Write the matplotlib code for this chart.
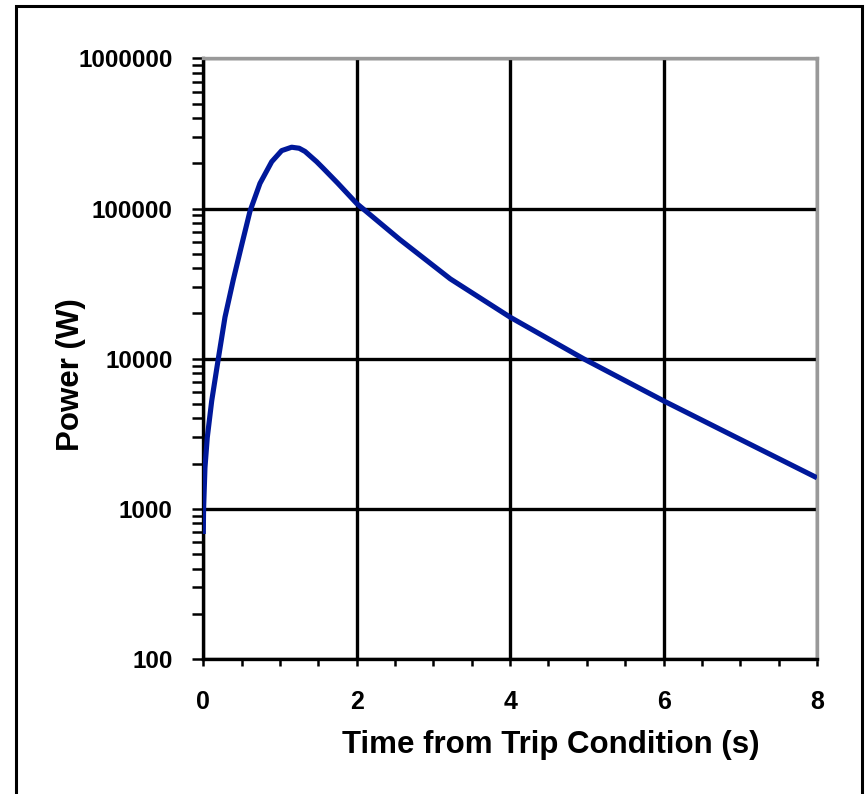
import matplotlib
matplotlib.use("Agg")
import matplotlib.pyplot as plt
from matplotlib.patches import Rectangle
from matplotlib.ticker import FixedLocator, FuncFormatter, LogLocator, MultipleLocator

# values
time_s = [0.0, 0.004, 0.022, 0.052, 0.11, 0.196, 0.283, 0.391, 0.5, 0.609, 0.739,
          0.892, 1.022, 1.152, 1.25, 1.326, 1.478, 1.565, 1.75, 2.0, 2.565, 3.22,
          4.0, 4.955, 6.0, 6.91, 8.0]
power_w = [680, 1000, 1880, 2980, 5240, 10000, 18900, 33500, 57000, 96000, 147000,
           205000, 243000, 256000, 252000, 240000, 205000, 185000, 148000, 108000,
           62000, 34000, 18900, 10000, 5240, 3060, 1610]

x_ticks = [0, 2, 4, 6, 8]
y_ticks = [100, 1000, 10000, 100000, 1000000]

plt.rcParams['font.family'] = ['Liberation Sans', 'DejaVu Sans']
plt.rcParams['font.weight'] = 'bold'

fig = plt.figure(figsize=(8.65, 7.94), dpi=100)
ax = fig.add_axes([0.235, 0.170, 0.7095, 0.7565])

ax.plot(time_s, power_w, color='#00189A', linewidth=3.7, solid_joinstyle='round',
        solid_capstyle='butt', zorder=3)

ax.set_yscale('log')
ax.set_xlim(0, 8)
ax.set_ylim(100, 1000000)

ax.xaxis.set_major_locator(FixedLocator(x_ticks))
ax.xaxis.set_minor_locator(MultipleLocator(0.5))
ax.yaxis.set_major_locator(FixedLocator(y_ticks))
ax.yaxis.set_minor_locator(LogLocator(base=10, subs=range(2, 10)))
ax.yaxis.set_major_formatter(FuncFormatter(lambda v, p: f"{int(round(v))}"))
ax.yaxis.set_minor_formatter(FuncFormatter(lambda v, p: ""))

ax.set_axisbelow(True)
ax.grid(True, which='major', color='black', linewidth=2.4)

ax.tick_params(axis='y', which='both', direction='out', length=8, width=1.8,
               color='black', labelsize=17.5, pad=14)
ax.tick_params(axis='x', which='both', direction='out', length=5, width=1.8,
               color='black', labelsize=18, pad=17)

for side in ['left', 'bottom']:
    ax.spines[side].set_color('black')
    ax.spines[side].set_linewidth(2.4)
for side in ['top', 'right']:
    ax.spines[side].set_color('#999999')
    ax.spines[side].set_linewidth(2.4)

fig.text(0.637, 0.062, "Time from Trip Condition (s)", fontsize=22.5, fontweight='bold',
         ha='center', va='center')
fig.text(0.082, 0.528, "Power (W)", fontsize=22.5, fontweight='bold',
         ha='center', va='center', rotation=90)

# outer frame, open at the bottom of the picture
fig.patches.append(Rectangle((16 / 865, -0.05), 846 / 865, 1.05 - 6 / 794,
                             transform=fig.transFigure, fill=False,
                             edgecolor='black', linewidth=2.2))

fig.savefig("out.png", dpi=100)
